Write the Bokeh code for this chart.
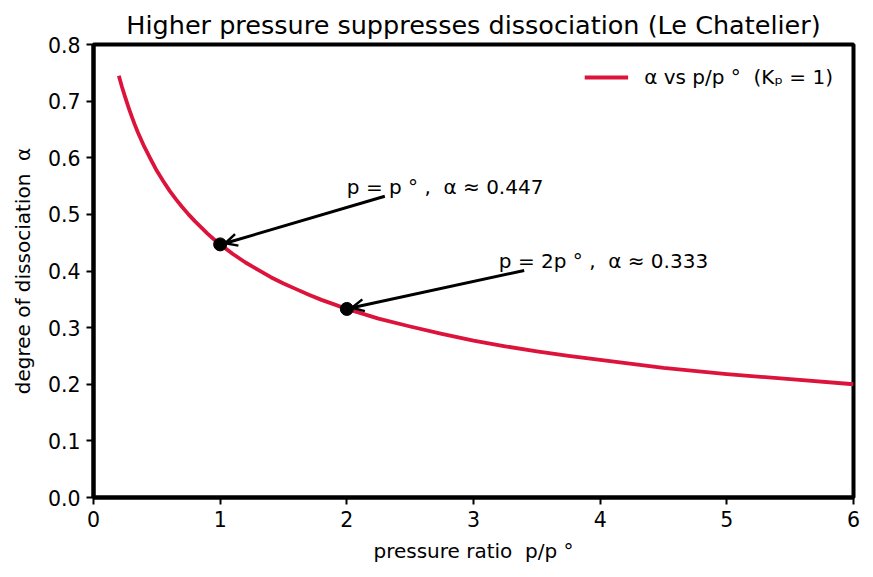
from bokeh.plotting import figure
from bokeh.models import (ColumnDataSource, Range1d, FixedTicker, Legend, LegendItem,
                          Arrow, OpenHead, NumeralTickFormatter)
from bokeh.core.properties import value
from bokeh.embed import file_html
from bokeh.resources import INLINE

# ---- data ----
pressure_ratio = [0.20, 0.225, 0.25, 0.275, 0.30, 0.325, 0.35, 0.40, 0.45, 0.50, 0.55, 0.60,
                  0.65, 0.70, 0.75, 0.80, 0.85, 0.90, 0.95, 1.00, 1.10, 1.20, 1.30, 1.40,
                  1.50, 1.60, 1.70, 1.80, 1.90, 2.00, 2.25, 2.50, 2.75, 3.00, 3.25, 3.50,
                  3.75, 4.00, 4.50, 5.00, 5.50, 6.00]
alpha = [0.745, 0.725, 0.707, 0.690, 0.674, 0.659, 0.645, 0.620, 0.598, 0.577, 0.559, 0.542,
         0.527, 0.513, 0.500, 0.488, 0.477, 0.466, 0.456, 0.447, 0.430, 0.415, 0.402, 0.389,
         0.378, 0.368, 0.358, 0.349, 0.341, 0.333, 0.316, 0.302, 0.289, 0.277, 0.267, 0.258,
         0.250, 0.243, 0.229, 0.218, 0.209, 0.200]

marked_p = [1.0, 2.0]
marked_alpha = [0.447, 0.333]

NB = "\u00a0"
note_texts = ["p" + NB + "=" + NB + "p" + NB + "°" + NB + "," + NB + NB + "α" + NB + "≈" + NB + "0.447",
              "p" + NB + "=" + NB + "2p" + NB + "°" + NB + "," + NB + NB + "α" + NB + "≈" + NB + "0.333"]
note_x = [2.0, 3.2]
note_y = [0.548, 0.418]
arrow_tail_x = [2.3, 3.4]
arrow_tail_y = [0.532, 0.401]
arrow_head_x = [1.04, 2.04]
arrow_head_y = [0.449, 0.335]

x_ticks = [0, 1, 2, 3, 4, 5, 6]
y_ticks = [0.0, 0.1, 0.2, 0.3, 0.4, 0.5, 0.6, 0.7, 0.8]

legend_label = "α" + NB + "vs" + NB + "p/p" + NB + "°" + NB + NB + "(Kₚ" + NB + "=" + NB + "1)"

FONT = "DejaVu Sans"

p = figure(width=873, height=577, output_backend="svg", toolbar_location=None,
           x_range=Range1d(0, 6), y_range=Range1d(0, 0.8),
           min_border_left=93, min_border_right=20, min_border_top=44, min_border_bottom=80,
           title="Higher pressure suppresses dissociation (Le Chatelier)")

p.background_fill_color = "white"
p.border_fill_color = "white"
p.outline_line_color = "black"
p.outline_line_width = 4
p.grid.visible = False

p.title.align = "center"
p.title.text_font = FONT
p.title.text_font_size = "25.5px"
p.title.text_font_style = "normal"
p.title.text_color = "black"

for ax in (p.xaxis[0], p.yaxis[0]):
    ax.axis_line_color = "black"
    ax.axis_line_width = 4
    ax.major_tick_out = 7
    ax.major_tick_in = 0
    ax.major_tick_line_width = 2
    ax.minor_tick_line_color = None
    ax.major_label_text_font = FONT
    ax.major_label_text_font_size = "20.5px"
    ax.major_label_text_color = "black"
    ax.axis_label_text_font = FONT
    ax.axis_label_text_font_size = "20px"
    ax.axis_label_text_font_style = "normal"
    ax.axis_label_text_color = "black"

p.xaxis.ticker = FixedTicker(ticks=x_ticks)
p.yaxis.ticker = FixedTicker(ticks=y_ticks)
p.yaxis.formatter = NumeralTickFormatter(format="0.0")
p.xaxis.axis_label = "pressure ratio" + NB + NB + "p/p" + NB + "°"
p.yaxis.axis_label = "degree of dissociation" + NB + NB + "α"
p.xaxis.major_label_standoff = 6
p.yaxis.major_label_standoff = 6
p.xaxis.axis_label_standoff = 9
p.yaxis.axis_label_standoff = 10

curve_src = ColumnDataSource(dict(x=pressure_ratio, y=alpha))
curve = p.line("x", "y", source=curve_src, line_color="#DC143C", line_width=3.8,
               line_join="round")

pts = ColumnDataSource(dict(x=marked_p, y=marked_alpha))
p.scatter("x", "y", source=pts, size=13, fill_color="black", line_color="black")

arr_src = ColumnDataSource(dict(x0=arrow_tail_x, y0=arrow_tail_y, x1=arrow_head_x, y1=arrow_head_y))
p.add_layout(Arrow(end=OpenHead(size=12, line_width=2.5, line_color="black"),
                   x_start="x0", y_start="y0", x_end="x1", y_end="y1",
                   line_width=3, line_color="black", source=arr_src))

note_src = ColumnDataSource(dict(x=note_x, y=note_y, t=note_texts))
p.text("x", "y", text="t", source=note_src, text_font=value(FONT), text_font_size="20px",
       text_baseline="alphabetic", text_align="left", text_color="black")

legend = Legend(items=[LegendItem(label=legend_label, renderers=[curve])],
                location="top_right", border_line_color=None, background_fill_alpha=0,
                label_text_font=FONT, label_text_font_size="20px", label_text_color="black",
                glyph_width=44, label_standoff=16, margin=20, padding=6, glyph_height=26)
p.add_layout(legend)

open("out.html", "w").write(file_html(p, INLINE))
